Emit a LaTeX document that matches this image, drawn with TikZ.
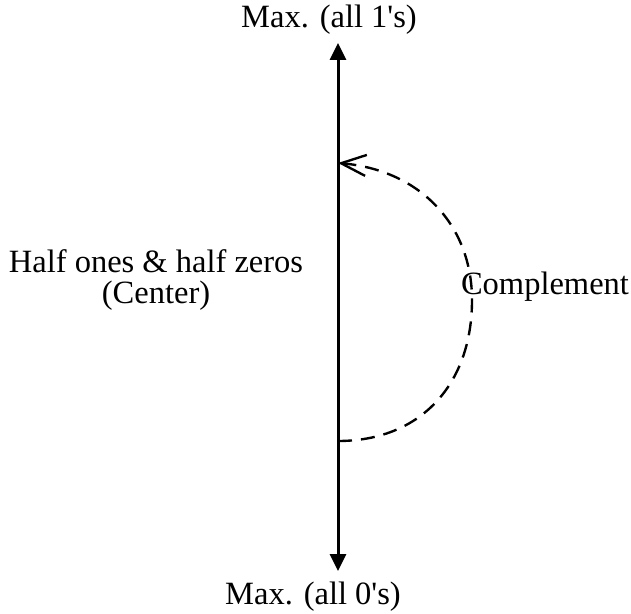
\documentclass[tikz,border=0pt]{standalone}
\usepackage{fontspec}
\setmainfont{Liberation Serif}
\usepackage{tikz}
\usetikzlibrary{arrows.meta,positioning}
\tikzset{
  lbl/.style    = {inner sep=0pt, align=center,
                   font=\fontsize{18.5}{18}\selectfont},
  axisarr/.style = {{Triangle[length=0.34cm,width=0.32cm]}-{Triangle[length=0.34cm,width=0.32cm]},
                   line width=1.7pt, draw=black},
  comparr/.style = {-{Straight Barb[length=0.50cm,width=0.42cm]}, line width=1.35pt,
                   dash pattern=on 0.28cm off 0.18cm, draw=black},
}
\begin{document}
\begin{tikzpicture}[x=0.02cm, y=-0.02cm]
\useasboundingbox (0,0) rectangle (631,614);

%% axis ends and arc ends
\coordinate (hi)   at (338,43);
\coordinate (lo)   at (338,571);
\coordinate (ctop) at (338,163);
\coordinate (cbot) at (338,441);

%% labels
\node[lbl] (maxone)  at (329,20)  {Max. (all 1\textquotesingle s)};
\node[lbl] (maxzero) at (313,597) {Max. (all 0\textquotesingle s)};
\node[lbl] (half)    at (156,280) {Half ones \& half zeros\\(Center)};
\node[lbl] (comp)    at (545,287) {Complement};

%% arrows
\draw[axisarr] (hi) -- (lo);
\draw[comparr] (cbot) .. controls (420,441) and (472,385) .. (472,300)
                      .. controls (472,225) and (420,170) .. (ctop);

\end{tikzpicture}
\end{document}
